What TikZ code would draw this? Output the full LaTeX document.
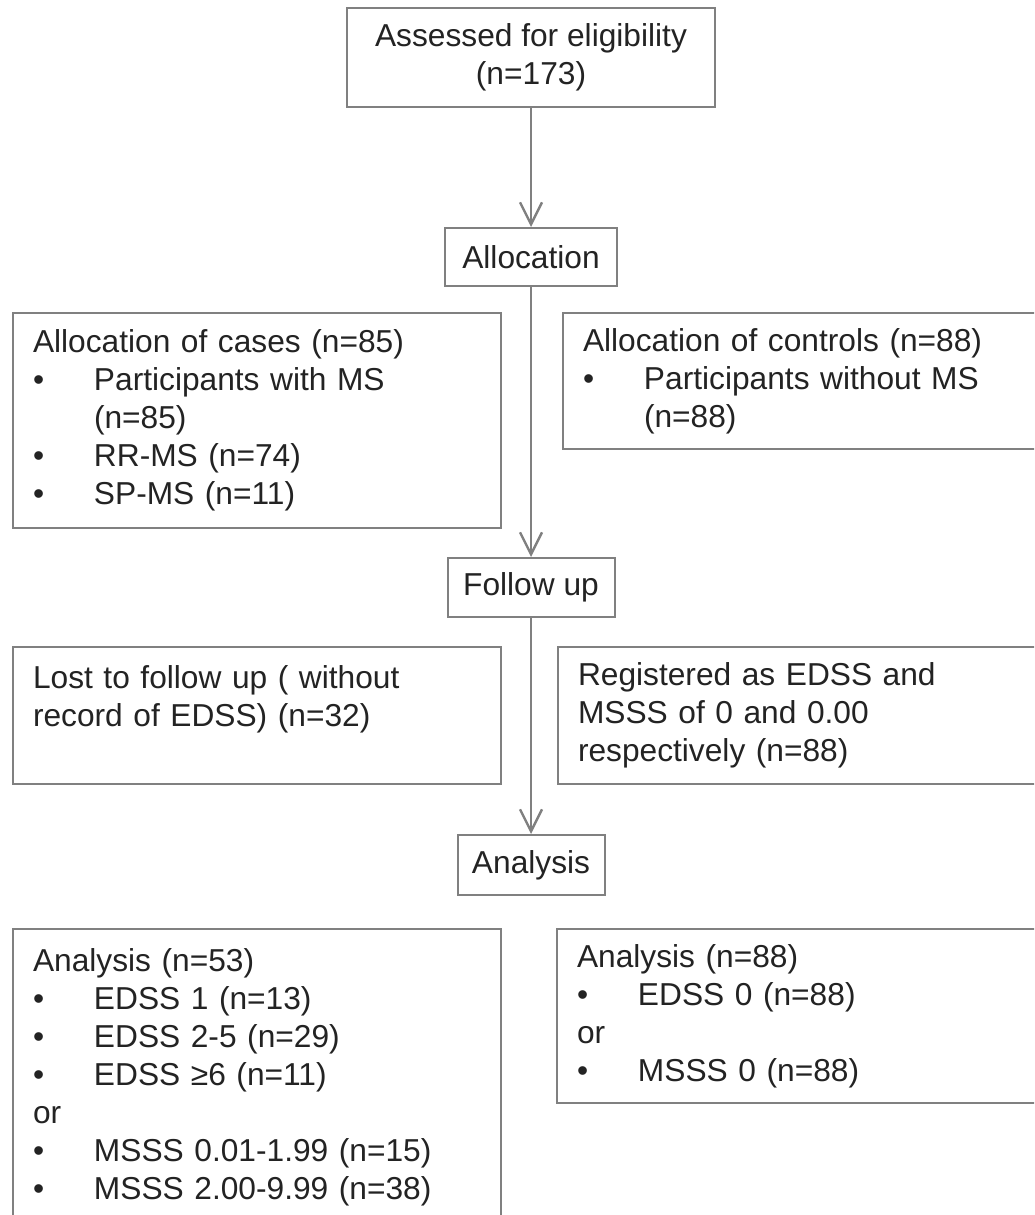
\documentclass[tikz,border=0pt]{standalone}
\usepackage{fontspec}
\setmainfont{Liberation Sans}
\usetikzlibrary{arrows.meta}
\definecolor{linegray}{RGB}{128,128,128}
\definecolor{textgray}{RGB}{35,35,35}
\newcommand{\bul}{\makebox[30.5pt][l]{\textbullet}}
\newcommand{\ind}{\hspace*{30.5pt}}
\tikzset{
	box/.style={draw=linegray, line width=1pt, fill=white, inner xsep=10pt,
	inner ysep=0pt, text=textgray, font=\fontsize{15.85}{19}\selectfont},
	stage/.style={box, align=center, inner xsep=0pt},
	leftbox/.style={box, anchor=north west, align=left, text width=224pt},
	rightbox/.style={box, anchor=north west, align=left, text width=240pt},
	arr/.style={draw=linegray, line width=1.2pt,
	-{Straight Barb[length=11pt, width=11pt]}}
}
\begin{document}
\begin{tikzpicture}[x=0.5pt, y=-0.5pt]
	\useasboundingbox (0,0) rectangle (1034,1215);
	\clip (0,0) rectangle (1034,1215);
	% Stufen in der Mitte
	\node[stage, minimum width=184pt, minimum height=49.5pt] (assess) at (531,
	57.5) {Assessed for eligibility\\(n=173)};
	\node[stage, minimum width=86pt, minimum height=29pt] (alloc) at (531, 257)
	{Allocation};
	\node[stage, minimum width=83.5pt, minimum height=29.5pt] (follow) at (531,
	587.5) {Follow up};
	\node[stage, minimum width=73.5pt, minimum height=30pt] (analysis) at (531,
	865) {Analysis};
	% Allocation
	\node[leftbox, minimum height=107.5pt] (cases) at (12, 312) {Allocation of
	cases (n=85)\\ \bul Participants with MS\\ \ind(n=85)\\ \bul RR-MS
	(n=74)\\ \bul SP-MS (n=11)};
	\node[rightbox, minimum height=68pt] (controls) at (562, 312) {Allocation of
	controls (n=88)\\ \bul Participants without MS\\ \ind(n=88)};
	% Follow up
	\node[leftbox, minimum height=68.5pt, text depth=38pt] (lost) at (12, 646)
	{Lost to follow up ( without\\record of EDSS) (n=32)};
	\node[rightbox, minimum height=68.5pt] (registered) at (557, 646)
	{Registered as EDSS and\\MSSS of 0 and 0.00\\respectively (n=88)};
	% Analysis
	\node[leftbox, minimum height=148pt] (anacases) at (12, 928) {Analysis
	(n=53)\\ \bul EDSS 1 (n=13)\\ \bul EDSS 2-5 (n=29)\\ \bul EDSS ≥6
	(n=11)\\or\\ \bul MSSS 0.01-1.99 (n=15)\\ \bul MSSS 2.00-9.99 (n=38)};
	\node[rightbox, minimum height=87pt] (anacontrols) at (556, 928) {Analysis
	(n=88)\\ \bul EDSS 0 (n=88)\\or\\ \bul MSSS 0 (n=88)};
	% Pfeile
	\draw[arr] (assess.south) -- (alloc.north);
	\draw[arr] (alloc.south) -- (follow.north);
	\draw[arr] (follow.south) -- (analysis.north);
\end{tikzpicture}
\end{document}
